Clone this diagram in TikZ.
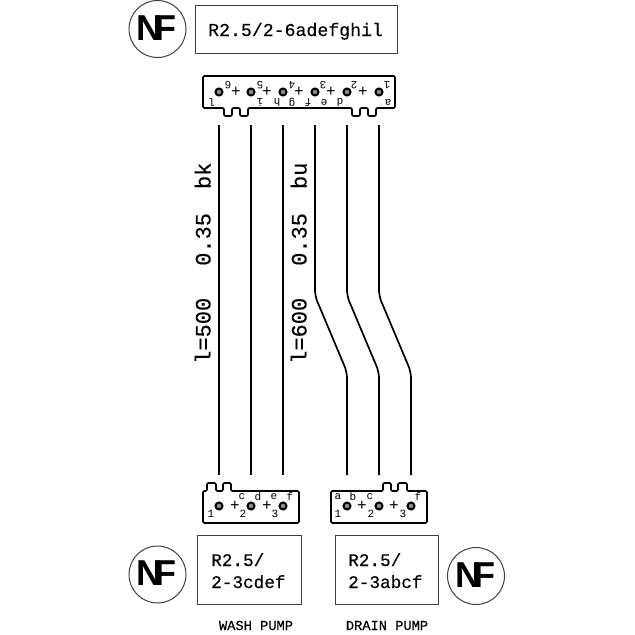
\documentclass[tikz,border=0pt]{standalone}
\usepackage{fontspec}
\setmainfont{Liberation Sans}
\setmonofont[FakeBold=0.25]{Liberation Mono}
\newfontfamily\thinmono{Liberation Mono}
\tikzset{
	lbox/.style={draw=black!75,line width=1pt,fill=none},
	lbltxt/.style={font=\ttfamily\fontsize{18.2}{18.2}\selectfont,anchor=base west,inner sep=0pt},
	wiretxt/.style={font=\ttfamily\fontsize{22}{22}\selectfont,anchor=base west,inner sep=0pt,rotate=90},
	boxtxt/.style={font=\ttfamily\fontsize{17.7}{17.7}\selectfont,anchor=base west,inner sep=0pt},
	captxt/.style={font=\ttfamily\fontsize{13.7}{13.7}\selectfont,inner sep=0pt,anchor=base},
	ring/.style={shape=circle,draw=black!75,line width=1pt,minimum size=57pt,inner sep=0pt},
	nftxt/.style={font=\bfseries\fontsize{36}{36}\selectfont,inner sep=0pt},
	pin/.style={shape=circle,draw=black,fill=black!45,line width=2pt,minimum size=7pt,inner sep=0pt},
	tiny/.style={font=\thinmono\fontsize{11}{11}\selectfont,inner sep=0pt},
	tinyr/.style={tiny,rotate=180},
	plus/.style={font=\thinmono\fontsize{16}{16}\selectfont,inner sep=0pt},
	wire/.style={line width=1.7pt,rounded corners=6pt},
	conn/.style={line width=1.6pt,line join=round,rounded corners=1.2pt}
}
\newcommand{\nflogo}{N\kern-8pt F}

\begin{document}
\begin{tikzpicture}[x=1pt,y=-1pt]
	\useasboundingbox (0,0) rectangle (635,635);

	% logos
	\node[ring] (nftop) at (157.5,29) {};
	\node[nftxt] (nftoplbl) at (156.5,28) {\nflogo};
	\node[ring] (nfwash) at (157.5,574.5) {};
	\node[nftxt] (nfwashlbl) at (156.5,573.5) {\nflogo};
	\node[ring] (nfdrain) at (476,576) {};
	\node[nftxt] (nfdrainlbl) at (475,575) {\nflogo};

	% label boxes
	\draw[lbox] (195,5) rectangle (397,53);
	\node[lbltxt] (toplbl) at (208,36) {R2.5/2-6adefghil};
	\draw[lbox] (197,535) rectangle (301,604);
	\node[boxtxt] (washa) at (211,566) {R2.5/};
	\node[boxtxt] (washb) at (211,588) {2-3cdef};
	\draw[lbox] (335,535) rectangle (438,604);
	\node[boxtxt] (draina) at (348,566) {R2.5/};
	\node[boxtxt] (drainb) at (348,588) {2-3abcf};
	\node[captxt] (washcap) at (256,630) {WASH PUMP};
	\node[captxt] (draincap) at (387,630) {DRAIN PUMP};

	% connector shells
	\draw[conn] (203,76) -- (395,76) -- (395,108) -- (376,108) -- (376,116) -- (368,116) -- (368,108)
		-- (360,108) -- (360,116) -- (352,116) -- (352,108) -- (248,108) -- (248,116) -- (240,116)
		-- (240,108) -- (232,108) -- (232,116) -- (224,116) -- (224,108) -- (203,108) -- cycle;
	\draw[conn] (203,523) -- (299,523) -- (299,491) -- (231,491) -- (231,483) -- (223,483) -- (223,491)
		-- (216,491) -- (216,483) -- (207,483) -- (207,491) -- (203,491) -- cycle;
	\draw[conn] (331,523) -- (427,523) -- (427,491) -- (407,491) -- (407,483) -- (398,483) -- (398,491)
		-- (391,491) -- (391,483) -- (383,483) -- (383,491) -- (331,491) -- cycle;

	% top pins
	\node[pin] (t6) at (219,92) {};
	\node[pin] (t5) at (251,92) {};
	\node[pin] (t4) at (283,92) {};
	\node[pin] (t3) at (315,92) {};
	\node[pin] (t2) at (347,92) {};
	\node[pin] (t1) at (379,92) {};
	\node[plus] (tp6) at (236,92) {+};
	\node[plus] (tp5) at (267,92) {+};
	\node[plus] (tp4) at (299,92) {+};
	\node[plus] (tp3) at (331,92) {+};
	\node[plus] (tp2) at (363,92) {+};
	\node[tinyr] (tn6) at (228,85) {6};
	\node[tinyr] (tn5) at (260,85) {5};
	\node[tinyr] (tn4) at (292,85) {4};
	\node[tinyr] (tn3) at (323,85) {3};
	\node[tinyr] (tn2) at (354,85) {2};
	\node[tinyr] (tn1) at (387,85) {1};
	\node[tinyr] (tl) at (212,102) {l};
	\node[tinyr] (ti) at (260,102) {i};
	\node[tinyr] (th) at (277,102) {h};
	\node[tinyr] (tg) at (292,102) {g};
	\node[tinyr] (tf) at (308,102) {f};
	\node[tinyr] (te) at (324,102) {e};
	\node[tinyr] (td) at (340,102) {d};
	\node[tinyr] (ta) at (388,102) {a};

	% wash pump pins
	\node[pin] (w1) at (219,506) {};
	\node[pin] (w2) at (251,506) {};
	\node[pin] (w3) at (283,506) {};
	\node[plus] (wp1) at (235,506) {+};
	\node[plus] (wp2) at (267,506) {+};
	\node[tiny] (wn1) at (211,514) {1};
	\node[tiny] (wn2) at (243,514) {2};
	\node[tiny] (wn3) at (275,514) {3};
	\node[tiny] (wc) at (242,497) {c};
	\node[tiny] (wd) at (258,497) {d};
	\node[tiny] (we) at (274,497) {e};
	\node[tiny] (wf) at (290,497) {f};

	% drain pump pins
	\node[pin] (d1) at (347,506) {};
	\node[pin] (d2) at (379,506) {};
	\node[pin] (d3) at (411,506) {};
	\node[plus] (dp1) at (362,506) {+};
	\node[plus] (dp2) at (394,506) {+};
	\node[tiny] (dn1) at (338,514) {1};
	\node[tiny] (dn2) at (371,514) {2};
	\node[tiny] (dn3) at (403,514) {3};
	\node[tiny] (da) at (338,497) {a};
	\node[tiny] (db) at (353,497) {b};
	\node[tiny] (dc) at (370,497) {c};
	\node[tiny] (df) at (418,497) {f};

	% wire ends
	\coordinate (a1) at (219,125);
	\coordinate (a2) at (251,125);
	\coordinate (a3) at (283,125);
	\coordinate (a4) at (315,125);
	\coordinate (a5) at (347,125);
	\coordinate (a6) at (379,125);
	\coordinate (b1) at (219,475);
	\coordinate (b2) at (251,475);
	\coordinate (b3) at (283,475);
	\coordinate (b4) at (347,475);
	\coordinate (b5) at (379,475);
	\coordinate (b6) at (411,475);

	\draw[wire] (a1) -- (b1);
	\draw[wire] (a2) -- (b2);
	\draw[wire] (a3) -- (b3);
	\draw[wire] (a4) -- (315,296) -- (347,372) -- (b4);
	\draw[wire] (a5) -- (347,296) -- (379,372) -- (b5);
	\draw[wire] (a6) -- (379,296) -- (411,372) -- (b6);

	\node[wiretxt] (lblbk) at (210.5,364) {l=500\hspace{32pt}0.35\hspace{24pt}bk};
	\node[wiretxt] (lblbu) at (306.5,364) {l=600\hspace{32pt}0.35\hspace{24pt}bu};
\end{tikzpicture}
\end{document}
